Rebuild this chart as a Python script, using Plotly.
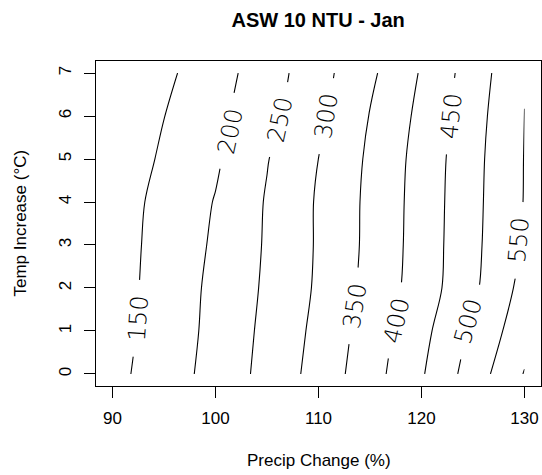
import plotly.graph_objects as go

# Data
precip_change = [90, 95, 100, 105, 110, 115, 120, 125, 130]
temp_increase = [0, 1, 2, 3, 4, 5, 6, 7]
asw_values = [
    [136.0, 175.2, 217.4, 265.4, 318.2, 379.4, 445.2, 523.1, 602.5],
    [131.7, 171.5, 213.7, 261.8, 312.4, 372.6, 435.0, 508.4, 580.6],
    [129.0, 169.6, 211.4, 257.5, 306.8, 365.5, 423.0, 491.1, 566.2],
    [128.2, 166.9, 206.8, 255.1, 305.0, 361.7, 421.0, 488.2, 555.5],
    [126.4, 164.0, 202.3, 253.7, 304.9, 360.9, 419.8, 486.9, 551.9],
    [119.8, 156.5, 193.3, 247.8, 300.2, 358.1, 417.9, 485.1, 551.3],
    [111.7, 149.4, 187.0, 234.9, 289.5, 351.9, 412.1, 480.2, 551.0],
    [99.1, 139.4, 179.6, 225.9, 282.1, 340.6, 404.2, 474.3, 545.0],
]
x_ticks = [90, 100, 110, 120, 130]
y_ticks = [0, 1, 2, 3, 4, 5, 6, 7]

# Contour label text and placement
label_text = ["150", "200", "250", "300", "350", "400", "450", "500", "550"]
label_x = [92.47, 101.4, 106.26, 110.80, 113.55, 117.60, 122.94, 124.56, 129.42]
label_y = [1.29, 5.64, 5.91, 5.99, 1.58, 1.23, 5.99, 1.23, 3.10]
label_angle = [-86, -78, -78, -81, -81, -77, -84, -74, -85]

FONT = "Liberation Sans, Arial, sans-serif"
LABEL_FONT = "DejaVu Sans, Liberation Sans, sans-serif"

fig = go.Figure()
fig.add_trace(go.Contour(
    x=precip_change, y=temp_increase, z=asw_values,
    contours=dict(coloring="lines", start=150, end=600, size=50, showlabels=False),
    colorscale=[[0, "black"], [1, "black"]],
    line=dict(width=1.1, color="black"),
    showscale=False, hoverinfo="skip",
))

annotations = []
for t, lx, ly, la in zip(label_text, label_x, label_y, label_angle):
    annotations.append(dict(
        x=lx, y=ly, xref="x", yref="y", text="\u00a0\u00a0" + t + "\u00a0\u00a0",
        showarrow=False, textangle=la, bgcolor="white", borderpad=0,
        font=dict(family=LABEL_FONT, size=24, color="black", weight=200),
        xanchor="center", yanchor="middle",
    ))

annotations.append(dict(
    x=0.5, y=0, xref="paper", yref="paper", yshift=-74,
    text="Precip Change (%)", showarrow=False, xanchor="center", yanchor="middle",
    font=dict(family=FONT, size=17, color="black"),
))
annotations.append(dict(
    x=0, y=0.5, xref="paper", yref="paper", xshift=-76,
    text="Temp Increase (°C)", showarrow=False, textangle=-90,
    xanchor="center", yanchor="middle",
    font=dict(family=FONT, size=17, color="black"),
))

fig.update_layout(
    width=542, height=475,
    margin=dict(l=96, r=1, t=61, b=89),
    paper_bgcolor="white", plot_bgcolor="white",
    showlegend=False,
    title=dict(text="<b>ASW 10 NTU - Jan</b>", x=0.587, xref="container",
               y=1 - 20 / 475, yref="container", xanchor="center", yanchor="middle",
               font=dict(family=FONT, size=20, color="black")),
    annotations=annotations,
    xaxis=dict(range=[88.4, 131.6], tickvals=x_ticks, ticks="outside", ticklen=11,
               tickcolor="black", showline=True, linecolor="black", linewidth=1,
               mirror=True, showgrid=False, zeroline=False, ticklabelstandoff=6,
               tickfont=dict(family=FONT, size=17, color="black")),
    yaxis=dict(range=[-0.28, 7.28], tickvals=y_ticks, ticks="outside", ticklen=11,
               tickcolor="black", showline=True, linecolor="black", linewidth=1,
               mirror=True, showgrid=False, zeroline=False, tickangle=-90,
               ticklabelstandoff=6,
               tickfont=dict(family=FONT, size=17, color="black")),
)

fig.write_html("out.html")
